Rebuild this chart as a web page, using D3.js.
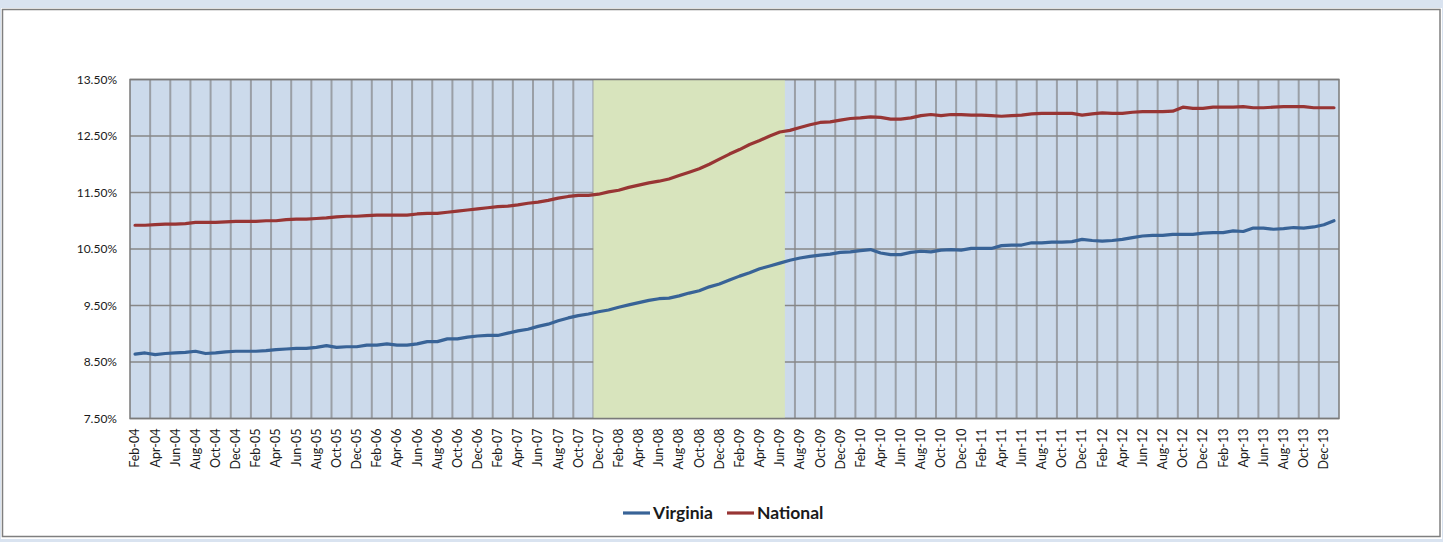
<!DOCTYPE html>
<html>
<head>
<meta charset="utf-8">
<script src="https://cdn.jsdelivr.net/npm/d3@7"></script>
<style>
  html, body { margin: 0; padding: 0; background: #d9e3f0; }
  svg { display: block; }
  text { font-family: Lato, "Open Sans", sans-serif; fill: #1a1a1a; }
</style>
</head>
<body>
<svg id="chart" width="1443" height="542"></svg>
<script>
// Monthly categories, Feb-04 .. Jan-14
var months = d3.timeMonth.range(new Date(2004, 1, 1), new Date(2014, 1, 1));
var fmt = d3.timeFormat('%b-%y');
var categories = months.map(fmt);

// Recession shading (Dec-07 .. Jun-09)
var recession = ['Dec-07', 'Jun-09'];

// Y tick labels
var yTicks = [7.5, 8.5, 9.5, 10.5, 11.5, 12.5, 13.5];

var virginia = [
  8.64, 8.66, 8.63, 8.65, 8.66, 8.67, 8.69, 8.65, 8.66, 8.68,
  8.69, 8.69, 8.69, 8.70, 8.72, 8.73, 8.74, 8.74, 8.76, 8.79,
  8.76, 8.77, 8.77, 8.80, 8.80, 8.82, 8.80, 8.80, 8.82, 8.86,
  8.86, 8.91, 8.91, 8.94, 8.96, 8.97, 8.97, 9.01, 9.05, 9.08,
  9.13, 9.17, 9.23, 9.28, 9.32, 9.35, 9.39, 9.42, 9.47, 9.51,
  9.55, 9.59, 9.62, 9.63, 9.67, 9.72, 9.76, 9.83, 9.88, 9.95,
  10.02, 10.08, 10.15, 10.20, 10.25, 10.30, 10.34, 10.37, 10.39, 10.41,
  10.44, 10.45, 10.47, 10.49, 10.43, 10.40, 10.40, 10.44, 10.46, 10.45,
  10.48, 10.49, 10.48, 10.51, 10.51, 10.51, 10.56, 10.57, 10.57, 10.61,
  10.61, 10.62, 10.62, 10.63, 10.67, 10.65, 10.64, 10.65, 10.67, 10.70,
  10.73, 10.74, 10.74, 10.76, 10.76, 10.76, 10.78, 10.79, 10.79, 10.82,
  10.81, 10.87, 10.87, 10.85, 10.86, 10.88, 10.87, 10.89, 10.93, 11.00
];

var national = [
  10.92, 10.92, 10.93, 10.94, 10.94, 10.95, 10.97, 10.97, 10.97, 10.98,
  10.99, 10.99, 10.99, 11.00, 11.00, 11.02, 11.03, 11.03, 11.04, 11.05,
  11.07, 11.08, 11.08, 11.09, 11.10, 11.10, 11.10, 11.10, 11.12, 11.13,
  11.13, 11.15, 11.17, 11.19, 11.21, 11.23, 11.25, 11.26, 11.28, 11.31,
  11.33, 11.36, 11.40, 11.43, 11.45, 11.45, 11.47, 11.51, 11.54, 11.59,
  11.63, 11.67, 11.70, 11.74, 11.80, 11.86, 11.92, 12.00, 12.09, 12.18,
  12.26, 12.35, 12.42, 12.50, 12.57, 12.60, 12.65, 12.70, 12.74, 12.75,
  12.78, 12.81, 12.82, 12.84, 12.83, 12.80, 12.80, 12.82, 12.86, 12.88,
  12.86, 12.88, 12.88, 12.87, 12.87, 12.86, 12.85, 12.86, 12.87, 12.89,
  12.90, 12.90, 12.90, 12.90, 12.87, 12.89, 12.91, 12.90, 12.90, 12.92,
  12.93, 12.93, 12.93, 12.94, 13.01, 12.99, 12.99, 13.01, 13.01, 13.01,
  13.02, 13.00, 13.00, 13.01, 13.02, 13.02, 13.02, 13.00, 13.00, 13.00
];

var series = [
  { name: 'Virginia', values: virginia, color: '#386397' },
  { name: 'National', values: national, color: '#983534' }
];

var svg = d3.select('#chart');

// Chart area frame
svg.append('rect')
  .attr('x', 1).attr('y', 8).attr('width', 1441).attr('height', 531)
  .attr('fill', '#ffffff');
svg.append('rect')
  .attr('x', 2.5).attr('y', 9.5).attr('width', 1437.5).attr('height', 527)
  .attr('fill', 'none').attr('stroke', '#7f7f7f').attr('stroke-width', 1.5);

var plotLeft = 130, plotRight = 1339, plotTop = 79.5, plotBottom = 418.5;

var x = d3.scaleBand().domain(categories).range([plotLeft, plotRight]).padding(0);
var y = d3.scaleLinear().domain([7.5, 13.5]).range([plotBottom, plotTop]);

// Plot background
svg.append('rect')
  .attr('x', plotLeft).attr('y', plotTop)
  .attr('width', plotRight - plotLeft).attr('height', plotBottom - plotTop)
  .attr('fill', '#ccdaeb');

// Vertical gridlines between every second category
var gridCats = categories.filter((d, i) => i > 0 && i % 2 === 0);
svg.append('g').selectAll('line')
  .data(gridCats)
  .enter().append('line')
  .attr('x1', d => x(d)).attr('x2', d => x(d))
  .attr('y1', plotTop).attr('y2', plotBottom)
  .attr('stroke', '#9a9fa6').attr('stroke-width', 2);

// Horizontal gridlines
svg.append('g').selectAll('line')
  .data(yTicks)
  .enter().append('line')
  .attr('x1', plotLeft).attr('x2', plotRight)
  .attr('y1', d => y(d)).attr('y2', d => y(d))
  .attr('stroke', '#878787').attr('stroke-width', 1.5);

// Recession band drawn over the grid
var recStart = x(recession[0]);
var recEnd = x(recession[1]) + x.bandwidth();
svg.append('rect')
  .attr('x', recStart).attr('y', plotTop)
  .attr('width', recEnd - recStart).attr('height', plotBottom - plotTop)
  .attr('fill', '#d8e4bd');

// Plot border
svg.append('rect')
  .attr('x', plotLeft).attr('y', plotTop)
  .attr('width', plotRight - plotLeft).attr('height', plotBottom - plotTop)
  .attr('fill', 'none').attr('stroke', '#7a7a7a').attr('stroke-width', 1.5);

// Y axis labels
var yAxis = d3.axisLeft(y)
  .tickValues(yTicks)
  .tickSize(0)
  .tickPadding(13)
  .tickFormat(d => d3.format('.2f')(d) + '%');
var gy = svg.append('g')
  .attr('transform', `translate(${plotLeft},0)`)
  .call(yAxis);
gy.select('.domain').remove();
gy.selectAll('text')
  .style('font-family', 'Lato, "Open Sans", sans-serif')
  .style('font-size', '12px').attr('fill', '#1a1a1a');

// X axis labels, every second month, rotated
var xAxis = d3.axisBottom(x)
  .tickValues(categories.filter((d, i) => i % 2 === 0))
  .tickSize(0);
var gx = svg.append('g')
  .attr('transform', `translate(0,${plotBottom})`)
  .call(xAxis);
gx.select('.domain').remove();
gx.selectAll('text')
  .style('font-family', 'Lato, "Open Sans", sans-serif')
  .style('font-size', '12.5px').attr('fill', '#1a1a1a')
  .attr('transform', 'rotate(-90)')
  .attr('text-anchor', 'end')
  .attr('x', -10).attr('y', 0).attr('dy', '0.35em');

// Series lines
var line = d3.line()
  .x((d, i) => x(categories[i]) + x.bandwidth() / 2)
  .y(d => y(d));

svg.append('g').selectAll('path')
  .data(series)
  .enter().append('path')
  .attr('d', d => line(d.values))
  .attr('fill', 'none')
  .attr('stroke', d => d.color)
  .attr('stroke-width', 3.2)
  .attr('stroke-linejoin', 'round')
  .attr('stroke-linecap', 'round');

// Legend
var legendPos = [623, 727];
var legend = svg.append('g').selectAll('g')
  .data(series)
  .enter().append('g')
  .attr('transform', (d, i) => `translate(${legendPos[i]},513)`);
legend.append('line')
  .attr('x1', 0).attr('x2', 27)
  .attr('stroke', d => d.color).attr('stroke-width', 3.2);
legend.append('text')
  .attr('x', 30).attr('dy', '0.35em')
  .style('font-size', '17.5px').style('font-weight', 'bold')
  .text(d => d.name);
</script>
</body>
</html>
